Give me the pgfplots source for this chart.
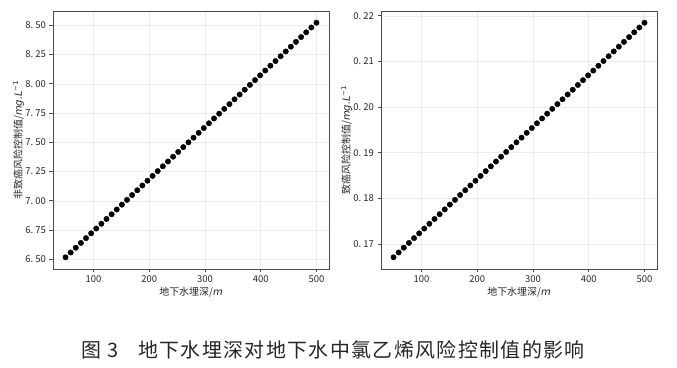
\documentclass[border=0pt]{standalone}
\usepackage{fontspec}
\setmainfont{Noto Sans CJK SC}
\newfontfamily\dejavu{DejaVu Sans}
\newfontfamily\capfont{Noto Sans CJK SC}
\usepackage{pgfplots}
\usepackage{pgfplotstable}
\pgfplotsset{compat=1.18}
\newcommand{\mi}[1]{{\dejavu\itshape #1}}
\newcommand{\cs}[1]{#1\hspace{1.4bp}}

\pgfplotstableread{
x a b
50.00 6.517 0.16710
59.18 6.558 0.16815
68.37 6.599 0.16920
77.55 6.640 0.17025
86.73 6.681 0.17130
95.92 6.722 0.17234
105.10 6.763 0.17339
114.29 6.804 0.17444
123.47 6.845 0.17549
132.65 6.885 0.17654
141.84 6.926 0.17759
151.02 6.967 0.17864
160.20 7.008 0.17969
169.39 7.049 0.18074
178.57 7.090 0.18179
187.76 7.131 0.18283
196.94 7.172 0.18388
206.12 7.213 0.18493
215.31 7.254 0.18598
224.49 7.295 0.18703
233.67 7.336 0.18808
242.86 7.377 0.18913
252.04 7.418 0.19018
261.22 7.459 0.19123
270.41 7.500 0.19228
279.59 7.540 0.19332
288.78 7.581 0.19437
297.96 7.622 0.19542
307.14 7.663 0.19647
316.33 7.704 0.19752
325.51 7.745 0.19857
334.69 7.786 0.19962
343.88 7.827 0.20067
353.06 7.868 0.20172
362.24 7.909 0.20277
371.43 7.950 0.20381
380.61 7.991 0.20486
389.80 8.032 0.20591
398.98 8.073 0.20696
408.16 8.114 0.20801
417.35 8.155 0.20906
426.53 8.195 0.21011
435.71 8.236 0.21116
444.90 8.277 0.21221
454.08 8.318 0.21326
463.27 8.359 0.21430
472.45 8.400 0.21535
481.63 8.441 0.21640
490.82 8.482 0.21745
500.00 8.523 0.21850
}\data

\pgfplotsset{myax/.style={
  scale only axis, width=276bp, height=258bp,
  axis line style={color=black!70, line width=0.9bp},
  tick align=outside, xtick pos=bottom, ytick pos=left,
  major tick length=3.5bp,
  tick style={black!70, line width=0.8bp},
  grid=major, grid style={black!8, line width=0.6bp},
  xmin=27.5, xmax=522.5, xtick={100,200,300,400,500},
  scaled y ticks=false,
  ticklabel style={font=\fontsize{9.5}{10}\selectfont, text=black!85},
  label style={font=\fontsize{10}{12}\selectfont, text=black!85},
  /pgf/number format/assume math mode=true,
  yticklabel style={/pgf/number format/.cd, fixed, fixed zerofill, precision=2, dec sep={\makebox[0.5em][l]{.}}},
  xlabel style={at={(axis description cs:0.5,-0.089)}, anchor=center},
  ylabel style={at={(axis description cs:-0.125,0.5)}, anchor=center},
  xlabel={地下水埋深/\mi{m}},
}}

\begin{document}
\begin{tikzpicture}
\useasboundingbox (0bp,0bp) rectangle (677bp,368bp);
\begin{axis}[myax, at={(53bp,99bp)}, anchor=south west,
  ymin=6.417, ymax=8.623, ytick={6.5,6.75,7,7.25,7.5,7.75,8,8.25,8.5},
  ylabel={非致癌风险控制值/\mi{mg.L}{\dejavu\textsuperscript{−1}}}]
\addplot[only marks, mark=*, mark size=2.7bp, black] table[x=x, y=a] {\data};
\end{axis}
\begin{axis}[myax, at={(381bp,99bp)}, anchor=south west,
  ymin=0.16453, ymax=0.22107, ytick={0.17,0.18,0.19,0.20,0.21,0.22},
  ylabel={致癌风险控制值/\mi{mg.L}{\dejavu\textsuperscript{−1}}}]
\addplot[only marks, mark=*, mark size=2.7bp, black] table[x=x, y=b] {\data};
\end{axis}
\node[anchor=west, inner sep=0pt, font=\capfont\fontsize{20}{22}\selectfont, text=black!85] at (81bp,18bp) {图};
\node[anchor=west, inner sep=0pt, font=\capfont\fontsize{20}{22}\selectfont, text=black!85] at (107bp,18bp) {3};
\node[anchor=west, inner sep=0pt, font=\capfont\fontsize{20}{22}\selectfont, text=black!85] at (138bp,18bp) {\cs{地}\cs{下}\cs{水}\cs{埋}\cs{深}\cs{对}\cs{地}\cs{下}\cs{水}\cs{中}\cs{氯}\cs{乙}\cs{烯}\cs{风}\cs{险}\cs{控}\cs{制}\cs{值}\cs{的}\cs{影}响};
\end{tikzpicture}
\end{document}
